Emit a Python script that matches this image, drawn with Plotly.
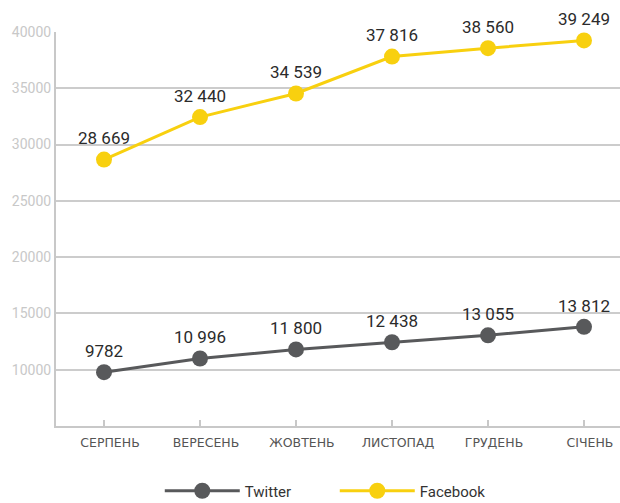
import plotly.graph_objects as go

months = ["СЕРПЕНЬ", "ВЕРЕСЕНЬ", "ЖОВТЕНЬ", "ЛИСТОПАД", "ГРУДЕНЬ", "СІЧЕНЬ"]
twitter = [9782, 10996, 11800, 12438, 13055, 13812]
facebook = [28669, 32440, 34539, 37816, 38560, 39249]
y_ticks = [10000, 15000, 20000, 25000, 30000, 35000, 40000]


def fmt(v):
    return f"{v:,}".replace(",", " ") if v >= 10000 else str(v)


x = list(range(len(months)))
fig = go.Figure()
fig.add_trace(go.Scatter(
    x=x, y=twitter, name="Twitter", mode="lines+markers+text",
    line=dict(color="#58595b", width=3),
    marker=dict(color="#58595b", size=16),
    text=[fmt(v) for v in twitter], textposition="top center",
    textfont=dict(family="Roboto", size=17, color="#2b2b2b"),
    cliponaxis=False,
))
fig.add_trace(go.Scatter(
    x=x, y=facebook, name="Facebook", mode="lines+markers+text",
    line=dict(color="#f8d00f", width=3),
    marker=dict(color="#f8d00f", size=16),
    text=[fmt(v) for v in facebook], textposition="top center",
    textfont=dict(family="Roboto", size=17, color="#2b2b2b"),
    cliponaxis=False,
))

fig.update_layout(
    width=620, height=503,
    margin=dict(l=56, r=0, t=32, b=77, autoexpand=False),
    paper_bgcolor="white", plot_bgcolor="white",
    showlegend=True,
    hovermode=False,
    legend=dict(orientation="h", x=0.184, xanchor="left", y=-0.165, yanchor="middle",
                font=dict(family="Roboto", size=15, color="#333333"),
                itemwidth=75, entrywidth=85, entrywidthmode="pixels"),
    xaxis=dict(
        tickmode="array", tickvals=x, ticktext=months,
        range=[-0.5, 5.375],
        showgrid=False, zeroline=False,
        showline=True, linecolor="#c8c8c8", linewidth=2,
        ticks="inside", ticklen=6, tickwidth=2, tickcolor="#c8c8c8",
        tickfont=dict(family="DejaVu Sans", size=12.5, color="#555555"),
        ticklabelstandoff=4, ticklabelshift=6,
        automargin=False,
        fixedrange=True,
    ),
    yaxis=dict(
        range=[5000, 40000],
        tickvals=y_ticks, ticktext=[str(v) for v in y_ticks],
        showgrid=True, gridcolor="#cccccc", gridwidth=2,
        zeroline=False,
        showline=True, linecolor="#c8c8c8", linewidth=2,
        ticks="", ticklabelstandoff=0,
        tickfont=dict(family="Roboto", size=14, color="#c8c8c8"),
        automargin=False,
        fixedrange=True,
    ),
)

fig.write_html(
    "out.html",
    config={"displayModeBar": False, "staticPlot": True},
    post_script="document.body.style.margin='0';document.body.style.overflow='hidden';",
)
